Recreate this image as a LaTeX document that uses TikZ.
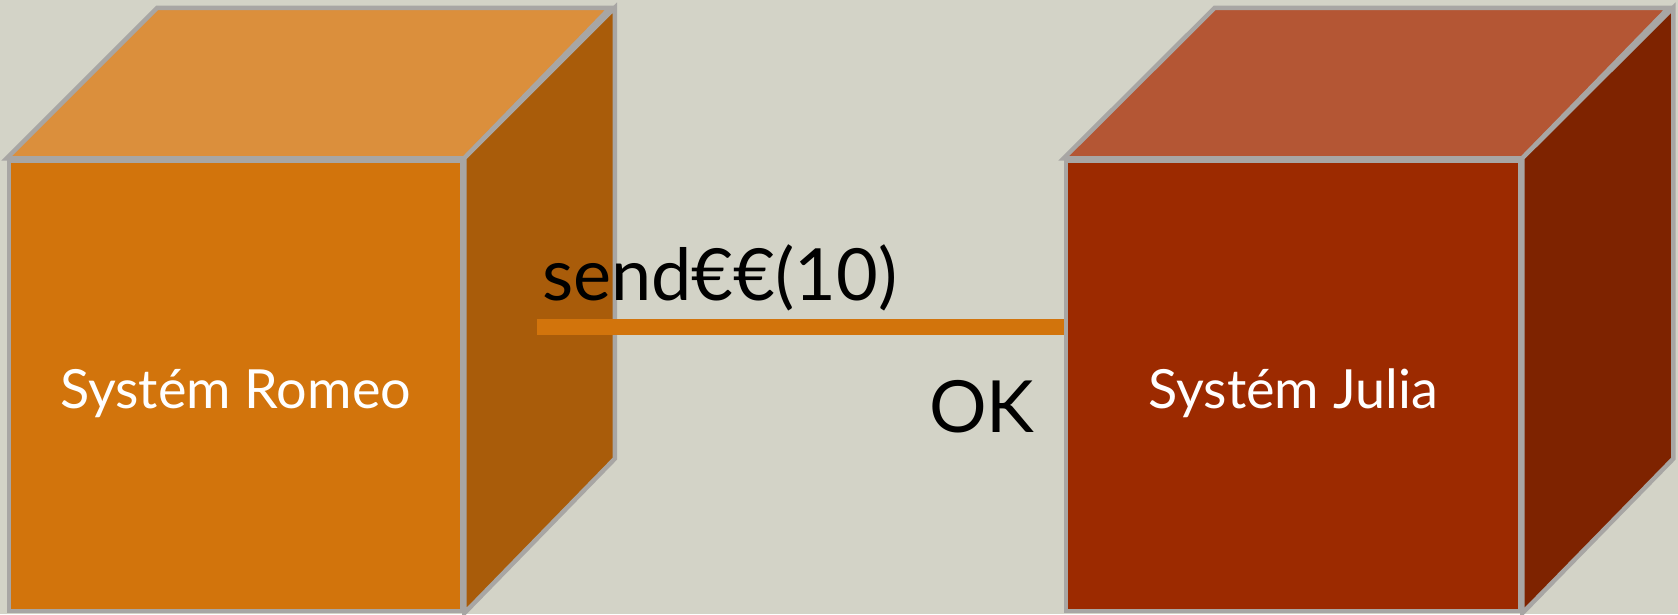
\documentclass[tikz,border=0pt]{standalone}
\usepackage{fontspec}
\setmainfont{Lato}
\definecolor{bg}{RGB}{211,211,199}
\definecolor{edgegray}{RGB}{168,166,164}
\definecolor{romeofront}{RGB}{210,116,12}
\definecolor{romeotop}{RGB}{219,143,60}
\definecolor{romeoside}{RGB}{169,92,10}
\definecolor{juliafront}{RGB}{156,42,0}
\definecolor{juliatop}{RGB}{180,86,52}
\definecolor{juliaside}{RGB}{126,35,0}
\tikzset{
  face/.style={draw=edgegray, line width=4.5pt, line join=miter},
  frontbox/.style={face, rectangle, inner sep=0pt, minimum width=#1, minimum height=450.5pt,
    text height=44.5pt, text depth=0pt,
    text=white, font=\fontsize{54}{60}\selectfont},
  msglabel/.style={inner sep=0pt, anchor=base west, text=black, font=\fontsize{72}{80}\selectfont},
  msgline/.style={draw=romeofront, line width=16pt, line cap=butt}
}
\begin{document}
\begin{tikzpicture}[x=1pt, y=-1pt]
\fill[bg] (0,0) rectangle (1678,614);
\useasboundingbox (0,0) rectangle (1678,614);
% Romeo cube
\node[frontbox=453pt, fill=romeofront] (romeo) at (235.5,385.75) {Systém Romeo};
\draw[face, fill=romeotop] (romeo.north west) -- ++(150.5,-150.5) -- ++(453,0) -- (romeo.north east) -- cycle;
\draw[face, fill=romeoside] (romeo.north east) -- ++(150.5,-150.5) -- ++(0,451) -- (romeo.south east) -- cycle;
% Julia cube
\node[frontbox=454pt, fill=juliafront] (julia) at (1293,385.75) {Systém Julia};
\draw[face, fill=juliatop] (julia.north west) -- ++(151,-150.5) -- ++(454,0) -- (julia.north east) -- cycle;
\draw[face, fill=juliaside] (julia.north east) -- ++(151,-150.5) -- ++(0,451) -- (julia.south east) -- cycle;
% message line
\coordinate (msgstart) at (537,327);
\draw[msgline] (msgstart) -- (msgstart -| julia.west);
% labels
\node[msglabel] (send) at (542,300) {send€€(10)};
\node[msglabel] (ok) at (929,432) {OK};
\end{tikzpicture}
\end{document}
